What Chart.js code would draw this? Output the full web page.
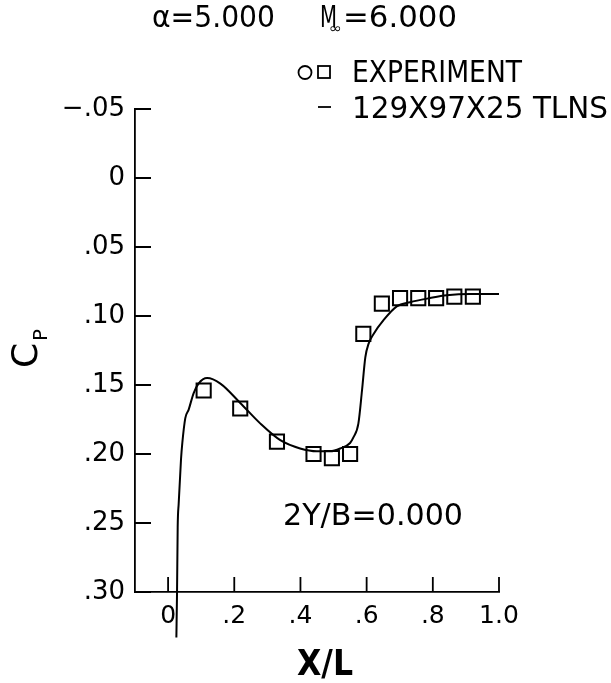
<!DOCTYPE html>
<html>
<head>
<meta charset="utf-8">
<script src="https://cdn.jsdelivr.net/npm/chart.js@4/dist/chart.umd.min.js"></script>
<style>
  body { margin: 0; background: #fff; }
  canvas { display: block; }
</style>
</head>
<body>
<canvas id="chart" width="611" height="683"></canvas>
<script>
// Experiment points (X/L, Cp)
let expX = [0.1075, 0.218, 0.329, 0.4395, 0.495, 0.550, 0.590, 0.646, 0.701, 0.756, 0.810, 0.865, 0.921];
let expCp = [0.154, 0.167, 0.191, 0.200, 0.203, 0.200, 0.113, 0.091, 0.087, 0.087, 0.087, 0.086, 0.086];

// 129X97X25 TLNS solution
let tlnsX = [0.025, 0.027, 0.029, 0.032, 0.039, 0.043, 0.052, 0.062, 0.077, 0.092, 0.118, 0.158, 0.218,
             0.279, 0.339, 0.399, 0.450, 0.490, 0.520, 0.550, 0.560, 0.575, 0.586, 0.596, 0.606, 0.621,
             0.651, 0.691, 0.731, 0.792, 0.842, 0.912, 1.000];
let tlnsCp = [0.333, 0.301, 0.253, 0.236, 0.204, 0.192, 0.174, 0.168, 0.156, 0.149, 0.145, 0.149, 0.163,
              0.178, 0.190, 0.196, 0.198, 0.198, 0.196, 0.192, 0.188, 0.178, 0.154, 0.130, 0.120, 0.113,
              0.103, 0.093, 0.090, 0.087, 0.085, 0.084, 0.084];

// Axis ticks
let xTicks = [0, 0.2, 0.4, 0.6, 0.8, 1.0];
let xTickLabels = ["0", ".2", ".4", ".6", ".8", "1.0"];
let yTicks = [-0.05, 0, 0.05, 0.10, 0.15, 0.20, 0.25, 0.30];
let yTickLabels = ["\u2212.05", "0", ".05", ".10", ".15", ".20", ".25", ".30"];

const FONT = "DejaVu Sans";

// Draw text squeezed or stretched to a given width
function fitText(ctx, text, x, y, font, width) {
    ctx.save();
    ctx.font = font;
    let w = ctx.measureText(text).width;
    ctx.translate(x, y);
    ctx.scale(width / w, 1);
    ctx.textAlign = "left";
    ctx.textBaseline = "alphabetic";
    ctx.fillText(text, 0, 0);
    ctx.restore();
}

// Tick marks pointing into the plot
const inwardTicks = {
    id: "inwardTicks",
    afterDraw(chart) {
        let ctx = chart.ctx;
        let area = chart.chartArea;
        ctx.save();
        ctx.strokeStyle = "#000";
        ctx.lineWidth = 1.8;
        ctx.beginPath();
        chart.scales.x.ticks.forEach(t => {
            let px = chart.scales.x.getPixelForValue(t.value);
            ctx.moveTo(px, area.bottom);
            ctx.lineTo(px, area.bottom - 15);
        });
        chart.scales.y.ticks.forEach(t => {
            let py = chart.scales.y.getPixelForValue(t.value);
            ctx.moveTo(area.left, py);
            ctx.lineTo(area.left + 16, py);
        });
        ctx.stroke();
        ctx.restore();
    }
};

// Header, legend, labels
const annotations = {
    id: "annotations",
    afterDraw(chart) {
        let ctx = chart.ctx;
        ctx.save();
        ctx.fillStyle = "#000";
        ctx.strokeStyle = "#000";

        fitText(ctx, "\u03b1=5.000", 152, 27, "30px " + FONT, 123);
        fitText(ctx, "M", 320, 27, "30px " + FONT, 17);
        fitText(ctx, "\u221e", 329, 33, "14px " + FONT, 13);
        fitText(ctx, "=6.000", 343, 27, "30px " + FONT, 114);

        // legend symbols
        ctx.lineWidth = 1.8;
        ctx.beginPath();
        ctx.arc(305, 72.5, 6.5, 0, Math.PI * 2);
        ctx.stroke();
        ctx.strokeRect(318, 66, 12, 12);
        ctx.beginPath();
        ctx.moveTo(318, 107);
        ctx.lineTo(331, 107);
        ctx.stroke();
        fitText(ctx, "EXPERIMENT", 352, 82, "30px " + FONT, 170);
        fitText(ctx, "129X97X25 TLNS", 352, 118, "30px " + FONT, 256);

        fitText(ctx, "2Y/B=0.000", 283, 525, "30px " + FONT, 180);
        fitText(ctx, "X/L", 297, 675, "bold 36px " + FONT, 56);

        // rotated C with subscript P
        ctx.save();
        ctx.translate(37, 368);
        ctx.rotate(-Math.PI / 2);
        ctx.font = "36px " + FONT;
        ctx.fillText("C", 0, 0);
        ctx.font = "20px " + FONT;
        ctx.fillText("P", 27, 10);
        ctx.restore();

        ctx.restore();
    }
};

let chart = new Chart(document.getElementById("chart"), {
    data: {
        datasets: [{
            type: "line",
            label: "129X97X25 TLNS",
            data: tlnsX.map((x, i) => ({ x: x, y: tlnsCp[i] })),
            borderColor: "#000",
            borderWidth: 2,
            pointRadius: 0,
            cubicInterpolationMode: "monotone",
            fill: false,
            clip: false
        }, {
            type: "scatter",
            label: "EXPERIMENT",
            data: expX.map((x, i) => ({ x: x, y: expCp[i] })),
            pointStyle: "rect",
            pointRadius: 10,
            borderColor: "#000",
            borderWidth: 2,
            backgroundColor: "rgba(0,0,0,0)",
            clip: false
        }]
    },
    options: {
        responsive: false,
        animation: false,
        devicePixelRatio: 1,
        layout: { padding: { top: 109, right: 112, left: 0, bottom: 0 } },
        plugins: {
            legend: { display: false },
            tooltip: { enabled: false }
        },
        scales: {
            x: {
                type: "linear",
                min: -0.1,
                max: 1.0,
                afterBuildTicks: s => { s.ticks = xTicks.map(v => ({ value: v })); },
                afterFit: s => { s.height = 91; },
                grid: { drawOnChartArea: false, drawTicks: false },
                border: { color: "#000", width: 1.8 },
                ticks: {
                    autoSkip: false,
                    maxRotation: 0,
                    padding: 9,
                    color: "#000",
                    font: { family: FONT, size: 25 },
                    callback: (v, i) => xTickLabels[i]
                }
            },
            y: {
                type: "linear",
                reverse: true,
                min: -0.05,
                max: 0.30,
                afterBuildTicks: s => { s.ticks = yTicks.map(v => ({ value: v })); },
                afterFit: s => { s.width = 135; },
                grid: { drawOnChartArea: false, drawTicks: false },
                border: { color: "#000", width: 1.8 },
                ticks: {
                    autoSkip: false,
                    padding: 10,
                    color: "#000",
                    font: { family: FONT, size: 26 },
                    callback: (v, i) => yTickLabels[i]
                }
            }
        }
    },
    plugins: [inwardTicks, annotations]
});
</script>
</body>
</html>
